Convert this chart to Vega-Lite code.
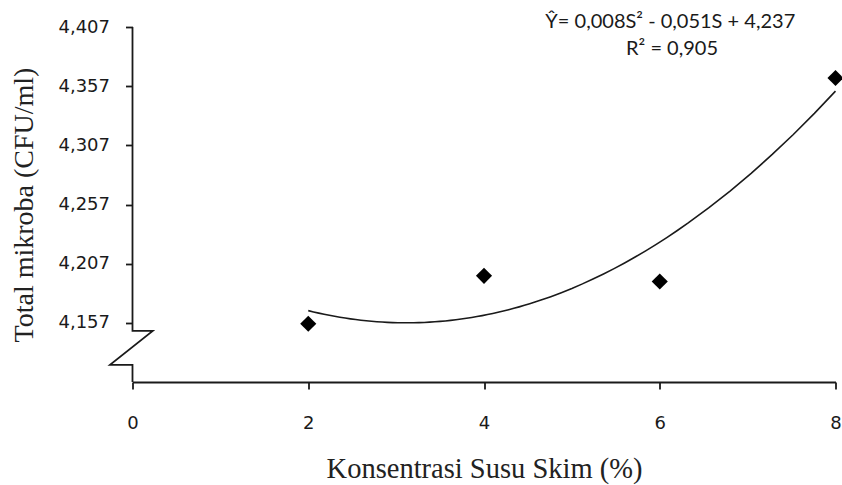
{
  "$schema": "https://vega.github.io/schema/vega-lite/v6.json",
  "width": 703,
  "height": 355,
  "autosize": "none",
  "padding": {"left": 132.5, "top": 27, "right": 6.5, "bottom": 103},
  "background": "white",
  "config": {"view": {"stroke": null}},
  "datasets": {
    "pts": [
      {"S": 2, "Y": 4.1562},
      {"S": 4, "Y": 4.1967},
      {"S": 6, "Y": 4.1919},
      {"S": 8, "Y": 4.3639}
    ],
    "axisline": [
      {"S": 0, "Y": 4.407, "o": 1},
      {"S": 0, "Y": 4.1502, "o": 2},
      {"S": 0.23, "Y": 4.1502, "o": 3},
      {"S": -0.256, "Y": 4.1215, "o": 4},
      {"S": 0, "Y": 4.1215, "o": 5},
      {"S": 0, "Y": 4.107, "o": 6}
    ],
    "eq": [
      {"S": 6.12, "Y": 4.406, "t": "Ŷ= 0,008S² - 0,051S + 4,237"},
      {"S": 6.14, "Y": 4.3834, "t": "R² = 0,905"}
    ]
  },
  "encoding": {
    "x": {
      "field": "S",
      "type": "quantitative",
      "scale": {"domain": [0, 8], "nice": false},
      "axis": {
        "title": "Konsentrasi Susu Skim (%)",
        "values": [0, 2, 4, 6, 8],
        "grid": false,
        "domainColor": "#1a1a1a",
        "domainWidth": 1.8,
        "tickColor": "#1a1a1a",
        "tickWidth": 1.8,
        "tickSize": 7,
        "labelFont": "DejaVu Sans",
        "labelFontSize": 18,
        "labelColor": "#1a1a1a",
        "labelPadding": 39,
        "labelBaseline": "alphabetic",
        "labelFlush": false,
        "labelOverlap": false,
        "titleFont": "Liberation Serif",
        "titleFontSize": 28.5,
        "titleFontWeight": "normal",
        "titleColor": "#222222",
        "titleY": 95,
        "titleBaseline": "alphabetic"
      }
    },
    "y": {
      "field": "Y",
      "type": "quantitative",
      "scale": {"domain": [4.107, 4.407], "nice": false, "zero": false},
      "axis": {
        "title": "Total mikroba (CFU/ml)",
        "values": [4.157, 4.207, 4.257, 4.307, 4.357, 4.407],
        "domain": false,
        "grid": false,
        "tickColor": "#1a1a1a",
        "tickWidth": 1.8,
        "tickSize": 7,
        "labelExpr": "replace(format(datum.value, '.3f'), '.', ',')",
        "labelFont": "DejaVu Sans",
        "labelFontSize": 18,
        "labelColor": "#1a1a1a",
        "labelPadding": 16,
        "labelFlush": false,
        "labelOverlap": false,
        "titleFont": "Liberation Serif",
        "titleFontSize": 28,
        "titleFontWeight": "normal",
        "titleColor": "#222222",
        "titleX": -100,
        "titleY": 177.5,
        "titleAngle": -90,
        "titleAlign": "center",
        "titleBaseline": "alphabetic"
      }
    }
  },
  "layer": [
    {
      "data": {"name": "axisline"},
      "mark": {"type": "line", "color": "#1a1a1a", "strokeWidth": 1.8},
      "encoding": {"order": {"field": "o", "type": "quantitative"}}
    },
    {
      "data": {"name": "pts"},
      "transform": [{"regression": "Y", "on": "S", "method": "poly", "order": 2}],
      "mark": {"type": "line", "color": "#1a1a1a", "strokeWidth": 1.6}
    },
    {
      "data": {"name": "pts"},
      "mark": {"type": "point", "shape": "diamond", "filled": true, "color": "#000000", "opacity": 1, "size": 260}
    },
    {
      "data": {"name": "eq"},
      "mark": {"type": "text", "font": "Lato", "fontSize": 20, "align": "center", "baseline": "alphabetic", "color": "#1a1a1a"},
      "encoding": {"text": {"field": "t", "type": "nominal"}}
    }
  ]
}
